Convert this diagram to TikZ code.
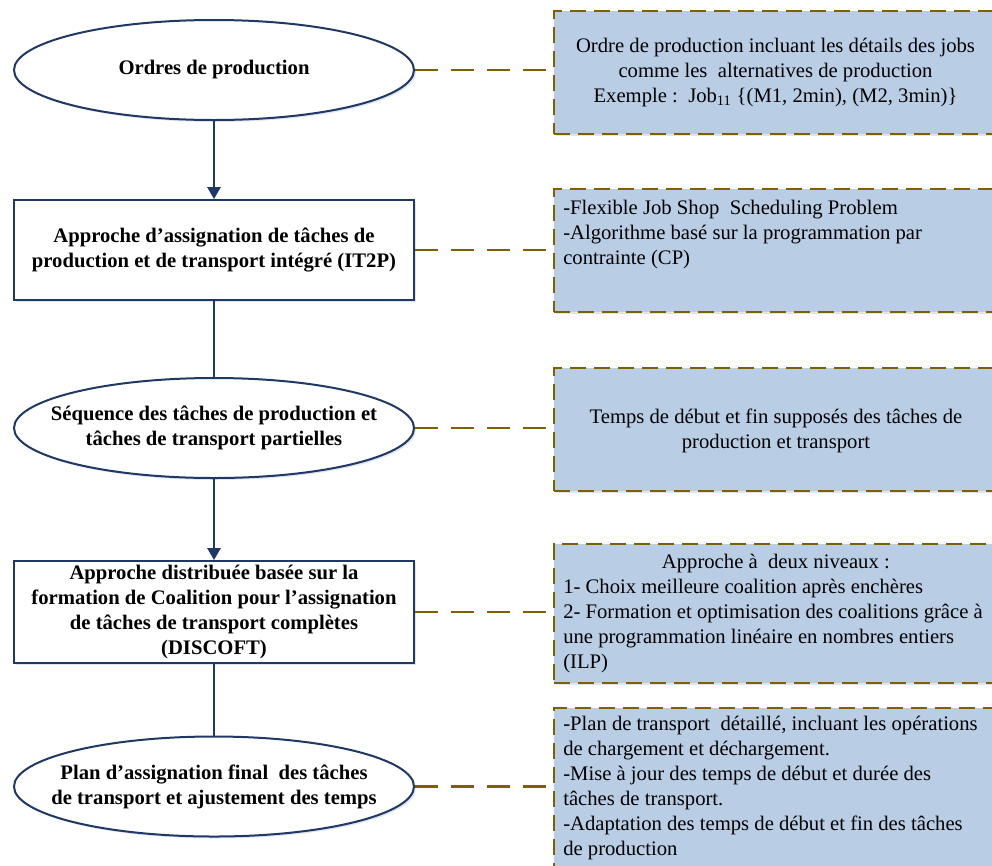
\documentclass[tikz,border=0pt]{standalone}
\usepackage{fontspec}
\setmainfont{Liberation Serif}
\usetikzlibrary{shapes.geometric,arrows.meta,shadows}
\definecolor{navy}{HTML}{203864}
\definecolor{olive}{HTML}{7F6000}
\definecolor{paleblue}{HTML}{B9CDE5}
\definecolor{shadowblue}{HTML}{C9D6EA}
\begin{document}
\begin{tikzpicture}[x=0.75pt,y=-0.75pt,
  txt/.style={font=\fontsize{15.5}{18.75}\selectfont},
  leftshape/.style={draw=navy,line width=1.5pt,fill=white,font=\bfseries\fontsize{15.5}{18.75}\selectfont,
     align=center,minimum width=300pt,minimum height=75pt,inner sep=0pt,
     drop shadow={shadow xshift=1.5pt,shadow yshift=-1.5pt,fill=shadowblue,opacity=0.6}},
  oval/.style={leftshape,ellipse,inner xsep=-40pt,inner ysep=-6pt},
  rect/.style={leftshape,rectangle},
  infobox/.style={draw=olive,line width=1.6pt,dash pattern=on 12pt off 6pt,fill=paleblue,
     rectangle,anchor=north west,minimum width=335pt,inner sep=0pt,
     drop shadow={shadow xshift=1.5pt,shadow yshift=-1.5pt,fill=shadowblue,opacity=0.6}},
  flow/.style={draw=navy,line width=1.5pt},
  flowarrow/.style={flow,-{Triangle[width=10pt,length=9pt]}},
  link/.style={draw=olive,line width=2.2pt,dash pattern=on 17pt off 10pt}
]
\useasboundingbox (0,0) rectangle (992,865);
\clip (0,0) rectangle (992,865);

% left column
\node[oval] (n1) at (214,70) {\raisebox{-2pt}{Ordres de production}};
\node[rect] (n2) at (214,250) {Approche d’assignation de tâches de\\production et de transport intégré (IT2P)};
\node[oval] (n3) at (214,428) {Séquence des tâches de production et\\tâches de transport partielles};
\node[rect,minimum height=76.5pt] (n4) at (214,612) {Approche distribuée basée sur la\\formation de Coalition pour l’assignation\\de tâches de transport complètes\\(DISCOFT)};
\node[oval] (n5) at (214,786.5) {Plan d’assignation final\ \ des tâches\\de transport et ajustement des temps};

\draw[flowarrow] (n1) -- (n2);
\draw[flow] (n2) -- (n3);
\draw[flowarrow] (n3) -- (n4);
\draw[flow] (n4) -- (n5);

% right column
\node[infobox,minimum height=92.25pt] (r1) at (553,10) {};
\node[infobox,minimum height=92.25pt] (r2) at (553,188) {};
\node[infobox,minimum height=92.25pt] (r3) at (553,367) {};
\node[infobox,minimum height=104.25pt] (r4) at (553,543) {};
\node[infobox,minimum height=150pt] (r5) at (553,707) {};

\node[txt,align=center] (t1) at (775.5,73) {Ordre de production incluant les détails des jobs\\comme les\ \ alternatives de production\\Exemple :\ \ Job\textsubscript{11} \{(M1, 2min), (M2, 3min)\}};
\node[txt,align=left,anchor=north west,inner sep=0pt] (t2) at (563,200) {-Flexible Job Shop\ \ Scheduling Problem\\-Algorithme basé sur la programmation par\\contrainte (CP)};
\node[txt,align=center] (t3) at (776,431) {Temps de début et fin supposés des tâches de\\production et transport};
\node[txt,align=left,anchor=north west,inner sep=0pt] (t4) at (563,554) {\hspace*{74pt}Approche à\ \ deux niveaux :\\1- Choix meilleure coalition après enchères\\2- Formation et optimisation des coalitions grâce à\\une programmation linéaire en nombres entiers\\(ILP)};
\node[txt,align=left,anchor=north west,inner sep=0pt] (t5) at (563,716) {-Plan de transport\ \ détaillé, incluant les opérations\\de chargement et déchargement.\\-Mise à jour des temps de début et durée des\\tâches de transport.\\-Adaptation des temps de début et fin des tâches\\de production};

% dashed links
\draw[link] (n1.east) -- (n1.east -| r1.west);
\draw[link] (n2.east) -- (n2.east -| r2.west);
\draw[link] (n3.east) -- (n3.east -| r3.west);
\draw[link] (n4.east) -- (n4.east -| r4.west);
\draw[link] (n5.east) -- (n5.east -| r5.west);
\end{tikzpicture}
\end{document}
